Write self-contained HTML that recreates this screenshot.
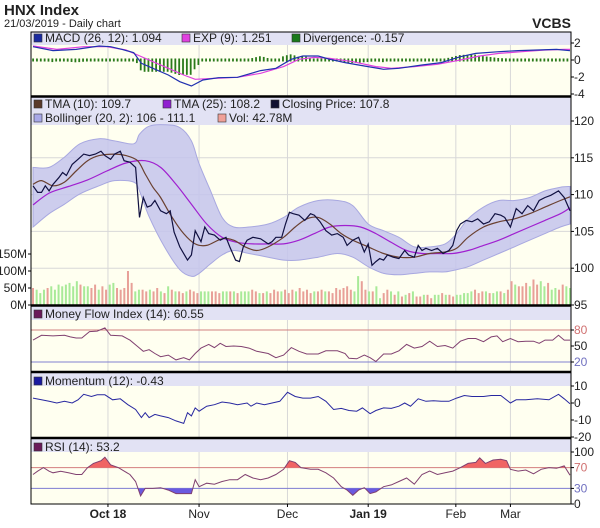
<!DOCTYPE html>
<html><head><meta charset="utf-8"><style>
html,body{margin:0;padding:0;background:#fff;}
svg{display:block;font-family:"Liberation Sans",Arial,sans-serif;}
</style></head><body>
<svg id="c" width="600" height="528" viewBox="0 0 600 528" xmlns="http://www.w3.org/2000/svg">
<text x="4" y="15" font-size="15" font-weight="bold" fill="#222">HNX Index</text>
<text x="4" y="27" font-size="11" fill="#222">21/03/2019 - Daily chart</text>
<text x="571" y="28" font-size="14" font-weight="bold" fill="#222" text-anchor="end">VCBS</text>
<g id="layer"></g>
</svg>
<script>
// ---------- data ----------
const monthLabels=["Oct 18","Nov","Dec","Jan 19","Feb","Mar"];
const monthDays=[19.5,43.2,66.2,87.2,110,124.2];
const monthBold=[true,false,false,true,false,false];
const closeDays=[0,1.2,2.2,3.2,4.2,5.2,6.7,7.7,8.7,10.2,11.7,13.2,14.7,16.2,17.7,18.7,20.2,21.2,22.7,23.7,25.2,26.7,27.7,28.7,29.7,30.7,31.7,33.2,34.7,35.7,36.7,38.2,40.2,41.2,42.2,43.7,44.7,45.7,47.2,48.7,50.2,51.2,52.7,53.7,54.7,55.7,57.2,59.2,61.2,62.2,63.2,64.7,65.7,66.7,67.7,69.2,70.7,72.2,73.2,74.7,76.2,77.7,79.2,80.7,81.7,83.2,84.7,86.2,87.2,88.2,89.2,90.2,91.2,92.2,93.7,95.2,96.7,97.7,99.2,100.2,101.2,102.2,103.7,105.2,106.7,108.2,109.2,110.2,111.2,112.7,114.2,115.7,117.2,118.7,120.2,121.7,122.7,124.2,125.7,127.2,128.7,130.2,131.7,133.2,134.7,136.7,138.2,139.7];
const closeValues=[111.2,110.3,110.3,111.2,110.5,111.4,112.3,113.0,112.6,114.1,114.8,115.5,115.3,115.5,115.9,115.3,114.8,115.5,115.9,114.6,114.4,113.7,106.9,109.6,108.3,108.5,109.2,107.8,107.4,107.8,104.9,102.9,101.1,101.8,105.1,103.6,105.6,104.7,104.5,103.8,104.2,102.9,101.1,100.9,102.9,103.8,104.2,104.0,103.3,103.6,104.2,104.2,106.0,107.6,107.4,107.2,106.5,107.4,107.2,106.3,105.1,104.5,104.7,104.2,103.1,103.8,104.2,102.2,103.3,100.4,100.9,101.3,101.1,101.8,101.5,101.3,102.4,101.8,101.5,103.1,102.4,102.7,102.4,102.7,102.0,102.4,103.1,105.1,106.0,106.5,106.3,106.7,106.0,106.3,107.4,107.2,106.9,105.6,108.1,107.4,108.5,107.8,109.2,109.6,109.9,110.5,109.6,107.8];
const tma10Days=[0,2.2,5.2,8.2,11.2,14.2,17.2,21.2,24.2,27.2,29.2,31.2,33.2,36.2,39.2,42.2,45.2,49.2,52.2,55.2,58.2,61.2,65.2,68.2,71.2,74.2,77.2,80.2,83.2,87.2,91.2,95.2,99.2,103.2,107.2,110.2,113.2,117.2,121.2,125.2,129.2,133.2,137.2,139.7];
const tma10Values=[111.4,111.9,111.2,111.7,113.2,114.6,115.3,115.5,115.3,114.6,112.8,111.0,109.6,106.9,104.7,103.3,103.1,104.0,103.8,102.9,102.4,102.9,104.2,105.6,106.7,106.9,106.0,104.7,103.8,102.9,102.0,101.5,101.5,102.0,102.2,102.7,104.2,105.6,106.3,106.7,107.4,108.3,109.2,109.7];
const tma25Days=[0,4.2,9.2,14.2,19.2,24.2,29.2,33.2,37.2,41.2,45.2,49.2,53.2,57.2,61.2,65.2,69.2,73.2,77.2,81.2,85.2,89.2,93.2,97.2,101.2,105.2,109.2,113.2,117.2,121.2,125.2,129.2,133.2,137.2,139.7];
const tma25Values=[108.6,110.2,111.1,112.0,113.2,114.3,114.6,113.7,111.4,108.7,106.0,104.2,103.5,103.3,103.3,103.3,103.8,104.7,105.6,105.8,105.6,104.7,103.5,102.4,102.0,102.0,102.0,102.4,103.1,103.8,104.7,105.6,106.5,107.4,108.2];
const bandDays=[0,4.2,8.2,12.2,17.2,21.2,26.2,27.7,30.2,34.2,38.2,41.2,43.2,46.2,49.2,52.2,56.2,61.2,65.2,69.2,74.2,79.2,83.2,87.2,91.2,95.2,99.2,103.2,107.2,110.2,113.2,117.2,121.2,125.2,129.2,133.2,137.2,139.7];
const bandUpper=[113.7,113.7,115.1,116.9,117.6,117.3,116.9,118.2,119.3,119.5,119.1,117.3,114.2,110.5,106.9,105.6,105.6,106.0,106.9,108.3,109.2,109.2,108.5,106.0,105.1,104.2,102.9,102.9,103.3,104.7,106.7,108.3,109.2,109.2,109.6,110.5,111.0,111.1];
const bandLower=[105.6,107.4,108.7,110.1,111.2,111.9,111.7,110.5,107.0,102.9,99.8,98.9,99.3,100.6,101.8,102.4,102.0,101.5,101.1,101.1,101.5,102.0,101.5,100.2,99.3,99.1,99.3,99.5,99.5,99.8,100.2,101.1,102.0,102.9,103.8,104.7,105.6,106.0];
const volumeValues=[50,45,35,45,50,55,45,60,55,60,65,55,70,60,55,55,50,60,45,55,45,60,65,50,45,50,100,65,40,45,45,40,45,40,50,40,35,55,45,40,40,35,40,45,40,35,40,40,40,40,40,35,40,40,40,40,35,40,40,40,45,40,35,35,40,35,45,40,40,45,35,45,40,50,40,45,35,40,40,45,40,40,35,50,45,50,55,45,40,85,70,45,40,40,55,20,35,45,40,30,40,25,30,35,40,25,25,30,30,20,30,30,35,30,30,25,30,30,35,35,40,45,35,40,40,35,35,40,40,35,45,70,60,55,55,65,55,75,60,70,55,65,45,50,45,60,55,50];
const volumeUp="RGGGRGGGGGGGGRGGRRGRRGGRRRRRGGRRGRRGRGRGRRGRRRGGGRRRGGRGRGGGRRGRGRRRGRRRGRRRRGRRGRRRRRRRGGRRGRGGRRGRGRGRGRRGRRGGRGRRGGGGGRRRGRGGRGRRGRRRGRRGGRGGRRGGRRRGRR";
const macdDays=[0,5.2,11.2,17.2,20.2,23.2,26.2,28.2,31.2,35.2,38.2,41.2,44.2,48.2,53.2,59.2,63.2,67.2,70.2,74.2,77.2,81.2,86.2,91.2,95.2,101.2,106.2,111.2,115.2,121.2,126.2,131.2,136.2,139.7];
const macdValues=[1.57,1.10,1.25,1.65,1.57,1.25,0.86,-0.39,-0.98,-1.76,-2.55,-3.06,-2.35,-2.08,-2.04,-1.25,-0.98,0.08,0.47,0.47,0.08,-0.31,-0.71,-1.10,-0.98,-0.59,-0.31,0.39,0.78,0.98,1.10,1.18,1.25,1.09];
const expDays=[0,6.2,13.2,19.2,24.2,27.2,31.2,35.2,39.2,42.2,47.2,53.2,59.2,65.2,69.2,73.2,77.2,83.2,89.2,93.2,99.2,105.2,111.2,116.2,121.2,127.2,133.2,138.2,139.7];
const expValues=[1.65,1.25,1.57,1.57,1.18,0.59,-0.20,-0.98,-1.76,-2.27,-2.16,-2.04,-1.57,-0.78,0.08,0.31,0.20,-0.20,-0.78,-0.98,-0.78,-0.51,0.00,0.47,0.78,0.98,1.18,1.25,1.25];
const mfiDays=[0,2.2,5.2,8.2,9.7,11.2,12.7,14.7,16.7,18.7,20.2,23.2,25.2,27.2,28.7,30.2,31.7,33.2,35.2,37.2,39.2,40.7,42.2,43.7,45.7,47.2,48.7,50.2,52.2,54.2,56.2,58.2,61.2,63.2,65.2,67.2,69.2,71.2,74.2,76.2,79.2,81.2,82.2,84.2,86.2,87.7,89.2,91.2,93.2,95.2,97.2,99.2,101.2,103.2,105.2,107.2,109.2,111.2,113.2,115.2,117.2,119.2,120.7,122.2,124.2,126.2,128.2,130.2,131.7,133.2,135.2,136.7,138.2,139.7];
const mfiValues=[61,70,69,70,67,65,65,77,78,84,70,69,61,49,40,43,36,30,33,24,28,24,36,46,53,47,55,49,50,49,46,40,36,28,33,47,40,35,35,41,41,36,27,26,33,28,21,35,35,41,53,46,49,59,49,51,46,59,64,64,58,67,69,58,64,58,59,59,55,61,61,70,61,61];
const momDays=[0,2.2,4.2,6.2,8.2,10.2,11.7,13.2,15.2,16.7,18.7,20.7,22.7,24.7,26.7,28.2,29.2,30.2,31.7,33.2,35.2,37.2,39.2,40.2,41.2,42.2,43.2,45.2,47.2,49.2,51.2,53.2,55.7,56.7,58.2,60.2,62.2,64.2,66.2,68.2,70.2,72.2,74.2,76.2,78.2,80.2,82.2,84.2,85.7,87.7,89.2,91.2,93.2,95.2,96.7,98.2,100.2,102.2,104.2,106.2,108.2,110.2,112.2,114.2,117.2,119.2,121.7,124.2,125.7,128.2,131.2,134.2,136.7,138.2,139.7];
const momValues=[2.9,1.9,1.0,0,1.0,0,1.9,5.1,3.8,4.8,4.8,1.9,2.5,-1.0,-3.8,-8.6,-5.7,-8.6,-6.7,-7.6,-8.6,-10.5,-12.0,-5.7,-7.6,-2.9,-4.8,-1.9,-1.0,0.6,0,-1.0,0,-1.9,0,-1.0,0,1.0,6.3,3.8,2.9,2.9,3.8,1.0,-3.8,-3.2,-4.4,-4.8,-2.9,-6.3,-4.4,-2.9,-3.2,-1.9,0,-1.9,2.5,1.0,1.3,1.0,1.0,2.9,4.4,3.8,3.8,4.4,4.4,0,1.9,1.9,2.5,1.9,5.1,2.5,-0.4];
const rsiDays=[0,1.2,2.7,4.2,5.2,7.2,9.2,11.2,12.7,14.2,15.7,17.7,18.7,20.2,22.2,23.7,25.2,26.7,28.0,29.2,31.2,33.2,35.2,37.2,39.2,41.2,42.2,43.2,45.2,47.2,49.2,51.2,53.2,55.2,57.2,59.2,61.2,63.2,65.2,66.7,68.2,69.7,72.2,74.2,76.2,78.2,80.2,81.7,83.2,84.7,86.2,87.7,89.2,91.2,93.2,95.2,97.2,99.2,101.2,103.2,105.2,107.2,109.2,111.2,113.2,115.2,116.2,117.7,119.7,121.7,123.2,124.2,126.2,128.2,130.2,132.2,134.2,136.2,138.2,139.7];
const rsiValues=[56.7,63,70,63,60,63,60,56.7,56.7,70,78,83.3,90,75.3,70,63.3,56.7,43.3,15.3,30,30,31.3,26.7,20,20,20,46.7,33.3,40,38,43.3,46.7,46.7,56.7,50,46.7,50,56.7,66.7,83.3,80,70,66.7,66.7,60,50,33.3,26.7,16.7,26.7,31.3,20,23.3,33.3,36.7,43.3,50,38,56.7,63.3,56.7,60,63.3,70,78,80,88.7,78,84.7,86,83.3,66.7,63.3,65.3,58,66.7,70,68.7,73.3,55.3];

// ---------- layout ----------
const NS="http://www.w3.org/2000/svg";
const layer=document.getElementById('layer');
const X0=31,X1=571,T0=0,T1=139.7;
function xs(t){return 33+(t-T0)/(T1-T0)*537;}
function lin(v0,y0,v1,y1){return v=>y0+(v-v0)/(v1-v0)*(y1-y0);}
const yMacd=lin(0,60,2,43);
const yPrice=lin(95,305,120,121);
const yVol=lin(0,305,150,254);
const yMfi=lin(20,362,80,330);
const yMom=lin(0,403,10,386);
const yRsi=lin(0,504,100,452);
function el(tag,attrs,parent){const e=document.createElementNS(NS,tag);for(const k in attrs)e.setAttribute(k,attrs[k]);(parent||layer).appendChild(e);return e;}
function txt(x,y,s,attrs,parent){const e=el('text',Object.assign({x:x,y:y,'font-size':12,fill:'#222'},attrs||{}),parent);e.textContent=s;return e;}
function poly(days,vals,ys){return days.map((d,i)=>(i?'L':'M')+xs(d).toFixed(1)+','+ys(vals[i]).toFixed(1)).join('');}
function smooth(days,vals,ys){const p=days.map((d,i)=>[xs(d),ys(vals[i])]);let s='M'+p[0][0]+','+p[0][1];for(let i=0;i<p.length-1;i++){const a=p[i-1]||p[i],b=p[i],c=p[i+1],d=p[i+2]||c;s+='C'+(b[0]+(c[0]-a[0])/6).toFixed(1)+','+(b[1]+(c[1]-a[1])/6).toFixed(1)+' '+(c[0]-(d[0]-b[0])/6).toFixed(1)+','+(c[1]-(d[1]-b[1])/6).toFixed(1)+' '+c[0].toFixed(1)+','+c[1].toFixed(1);}return s;}
function interp(days,vals,t){if(t<=days[0])return vals[0];for(let i=1;i<days.length;i++){if(t<=days[i]){const f=(t-days[i-1])/(days[i]-days[i-1]);return vals[i-1]+f*(vals[i]-vals[i-1]);}}return vals[vals.length-1];}

const panels=[[32,96,45,'macd'],[97,305,125,'price'],[306,371,320,'mfi'],[373,437,386,'momentum'],[439,504,452,'rsi']];
panels.forEach(p=>{
  const g=el('g',{});
  
  
  el('rect',{x:X0,y:p[0],width:X1-X0,height:p[1]-p[0],fill:'#fffff0'},g);
  el('rect',{x:X0,y:p[0],width:X1-X0,height:p[2]-p[0],fill:'#e2e2f4'},g);
  monthDays.forEach(d=>el('line',{x1:xs(d),x2:xs(d),y1:p[2],y2:p[1],stroke:'#d8d8d8','stroke-width':1},g));
});
[100,105,110,115].forEach(v=>el('line',{x1:X0,x2:X1,y1:yPrice(v),y2:yPrice(v),stroke:'#d8d8d8'}));
el('line',{x1:X0,x2:X1,y1:yMfi(80),y2:yMfi(80),stroke:'#d08080'});
el('line',{x1:X0,x2:X1,y1:yMfi(20),y2:yMfi(20),stroke:'#8080d0'});
el('line',{x1:X0,x2:X1,y1:yRsi(70),y2:yRsi(70),stroke:'#d08080'});
el('line',{x1:X0,x2:X1,y1:yRsi(30),y2:yRsi(30),stroke:'#8080d0'});

// MACD divergence
for(let t=0;t<=139;t+=1){
  const dv=interp(macdDays,macdValues,t)-interp(expDays,expValues,t);
  const y0=yMacd(0),h=Math.max(3,Math.abs(dv)*8.5*2);
  const b=el('rect',{x:xs(t)-0.8,y:dv<0?y0-1.5:y0-h+1.5,width:1.8,height:h,fill:'#2a7a1a'});
  
  
}
const macdExp=el('path',{d:poly(expDays,expValues,yMacd),fill:'none',stroke:'#e040e0','stroke-width':1.2});


const macdL=el('path',{d:poly(macdDays,macdValues,yMacd),fill:'none',stroke:'#2030b0','stroke-width':1.2});



const bandPath=smooth(bandDays,bandUpper,yPrice)+smooth(bandDays.slice().reverse(),bandLower.slice().reverse(),yPrice).replace('M','L')+'Z';
const band=el('path',{d:bandPath,fill:'#c4c4ec','fill-opacity':0.85,stroke:'#a8a8e0','stroke-width':1});



volumeValues.forEach((v,i)=>{
  const t=i/(volumeValues.length-1)*T1;
  const r=el('rect',{x:xs(t)-1,y:yVol(v),width:2,height:yVol(0)-yVol(v),fill:volumeUp[i]==='G'?'#a8ea98':'#e8a098'});
  
  
});

const t25=el('path',{d:smooth(tma25Days,tma25Values,yPrice),fill:'none',stroke:'#a020d0','stroke-width':1.2});


const t10=el('path',{d:smooth(tma10Days,tma10Values,yPrice),fill:'none',stroke:'#6a4030','stroke-width':1.2});


const cl=el('path',{d:poly(closeDays,closeValues,yPrice),fill:'none',stroke:'#101040','stroke-width':1.2});



const mfi=el('path',{d:poly(mfiDays,mfiValues,yMfi),fill:'none',stroke:'#804070','stroke-width':1});


const mom=el('path',{d:poly(momDays,momValues,yMom),fill:'none',stroke:'#2828a0','stroke-width':1});


const defs=el('defs',{});
el('rect',{x:X0,y:yRsi(100),width:X1-X0,height:yRsi(70)-yRsi(100)},el('clipPath',{id:'above70'},defs));
el('rect',{x:X0,y:yRsi(30),width:X1-X0,height:yRsi(0)-yRsi(30)},el('clipPath',{id:'below30'},defs));
const rp=poly(rsiDays,rsiValues,yRsi);
const last=xs(rsiDays[rsiDays.length-1]),first=xs(rsiDays[0]);
const ob=el('path',{d:rp+'L'+last+','+yRsi(70)+'L'+first+','+yRsi(70)+'Z',fill:'#f06464','clip-path':'url(#above70)'});


const os=el('path',{d:rp+'L'+last+','+yRsi(30)+'L'+first+','+yRsi(30)+'Z',fill:'#6a5ae0','clip-path':'url(#below30)'});


const rsi=el('path',{d:rp,fill:'none',stroke:'#804070','stroke-width':1});



el('rect',{x:X0,y:32,width:X1-X0,height:472,fill:'none',stroke:'#000','stroke-width':1});
[96.5,305.5,372,438].forEach(y=>el('line',{x1:X0,x2:X1,y1:y,y2:y,stroke:'#000','stroke-width':2.5}));

function legend(x,y,color,label,name){
  const g=el('g',{});
  
  
  el('rect',{x:x,y:y-8,width:8,height:8,fill:color,stroke:'#333','stroke-width':0.6},g);
  txt(x+11,y,label,{},g);
}
legend(34,42,'#1a2aa0','MACD (26, 12): 1.094','legend-macd');
legend(182,42,'#e040e0','EXP (9): 1.251','legend-exp');
legend(292,42,'#1a7a1a','Divergence: -0.157','legend-divergence');
legend(34,108,'#5a3a2a','TMA (10): 109.7','legend-tma10');
legend(163,108,'#9020d0','TMA (25): 108.2','legend-tma25');
legend(271,108,'#101030','Closing Price: 107.8','legend-closing-price');
legend(34,122,'#a8a8e8','Bollinger (20, 2): 106 - 111.1','legend-bollinger');
legend(218,122,'#f0a098','Vol: 42.78M','legend-volume');
legend(34,318,'#6a1a5a','Money Flow Index (14): 60.55','legend-mfi');
legend(34,385,'#1a1aa0','Momentum (12): -0.43','legend-momentum');
legend(34,451,'#6a1a5a','RSI (14): 53.2','legend-rsi');

function ytick(y,s,color,name){const t=txt(574,y+4,s,{fill:color||'#222'});el('line',{x1:X1,x2:X1+3,y1:y,y2:y,stroke:'#000'});}
[2,0,-2,-4].forEach(v=>ytick(yMacd(v),String(v),null,'macd-y-tick'));
[120,115,110,105,100,95].forEach(v=>ytick(yPrice(v),String(v),null,'price-y-tick'));
[[80,'#d07070'],[50,'#222'],[20,'#7070c0']].forEach(a=>ytick(yMfi(a[0]),String(a[0]),a[1],'mfi-y-tick'));
[10,0,-10,-20].forEach(v=>ytick(yMom(v),String(v),null,'momentum-y-tick'));
[[100,'#222'],[70,'#d07070'],[30,'#7070c0'],[0,'#222']].forEach(a=>ytick(yRsi(a[0]),String(a[0]),a[1],'rsi-y-tick'));
[[150,'150M'],[100,'100M'],[50,'50M'],[0,'0M']].forEach(a=>{const t=txt(27,yVol(a[0])+4,a[1],{'text-anchor':'end'});el('line',{x1:28,x2:X0,y1:yVol(a[0]),y2:yVol(a[0]),stroke:'#000'});});
monthLabels.forEach((m,i)=>{const t=txt(xs(monthDays[i]),518,m,{'text-anchor':'middle','font-weight':monthBold[i]?'bold':'normal'});el('line',{x1:xs(monthDays[i]),x2:xs(monthDays[i]),y1:504,y2:507,stroke:'#000'});});
</script>
</body></html>
